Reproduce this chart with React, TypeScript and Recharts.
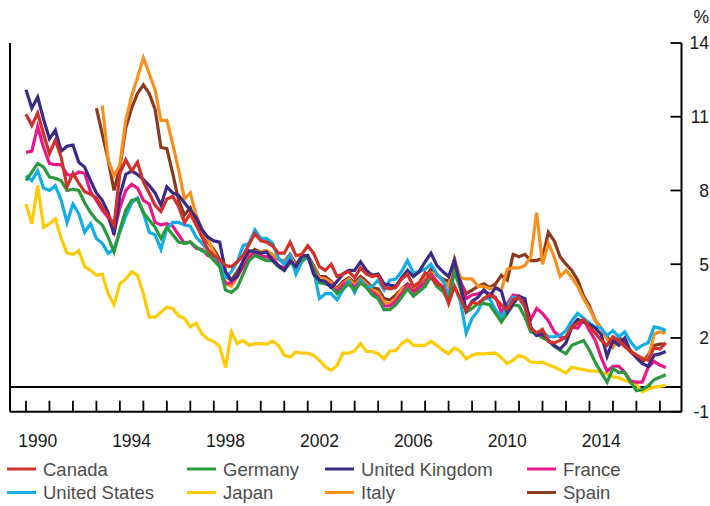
import { Line, LineChart, ReferenceLine, XAxis, YAxis } from 'recharts';

// quarterly observations, 1990 Q1 to 2017 Q2
const firstYear = 1990;
const quarterCount = 110;
const quarters = Array.from({ length: quarterCount }, (_, i) => firstYear + i / 4);

const canada = [
  11.1, 10.65, 11.15, 10.3, 9.5, 10.05, 9.35, 8.15, 8.7, 8.3, 7.95, 7.85,
  7.7, 7.3, 7.0, 6.6, 8.7, 9.25, 8.8, 9.15, 8.35, 7.9, 7.4, 7.15,
  7.65, 7.75, 7.35, 6.7, 7.05, 6.6, 6.1, 5.6, 5.35, 5.2, 4.95, 4.9,
  5.1, 5.35, 5.8, 6.25, 5.95, 5.9, 5.75, 5.45, 5.45, 5.9, 5.35, 5.4,
  5.75, 5.45, 4.9, 4.75, 5.0, 4.5, 4.6, 4.7, 4.45, 4.85, 4.6, 4.5,
  4.55, 4.05, 4.0, 4.05, 4.4, 4.6, 4.1, 4.25, 4.65, 4.45, 4.2, 4.1,
  3.4, 4.1, 3.6, 3.1, 3.45, 3.4, 3.6, 3.75, 3.6, 3.35, 3.15, 3.55,
  3.65, 3.3, 2.4, 2.2, 2.35, 1.85, 1.8, 1.9, 2.05, 2.45, 2.6, 2.75,
  2.45, 2.2, 1.9, 1.7, 2.05, 1.9, 1.65, 1.45, 1.3, 1.15, 1.1, 1.6, 1.55, 1.8,
];

const unitedStates = [
  8.6, 8.4, 8.8, 8.1, 8.0, 8.2, 7.6, 6.7, 7.45, 7.05, 6.3, 6.65,
  6.05, 5.85, 5.45, 5.6, 6.3, 6.95, 7.5, 7.7, 7.1, 6.3, 6.2, 5.6,
  6.45, 6.7, 6.7, 6.6, 6.55, 6.1, 5.85, 5.55, 5.25, 5.2, 4.45, 4.7,
  5.1, 5.75, 5.85, 6.4, 6.05, 6.05, 5.85, 5.25, 5.0, 5.35, 4.6, 5.1,
  5.3, 4.75, 3.6, 3.8, 3.8, 3.55, 3.95, 4.3, 3.85, 4.35, 4.05, 4.1,
  4.35, 3.95, 4.35, 4.4, 4.7, 5.15, 4.65, 4.7, 4.8, 5.0, 4.6, 4.35,
  3.75, 4.1, 3.5, 2.2, 2.8, 3.1, 3.6, 3.6, 3.15, 2.85, 3.3, 3.65,
  3.6, 3.25, 2.3, 2.1, 2.25, 2.05, 2.05, 2.1, 2.3, 2.7, 3.0, 2.8,
  2.6, 2.45, 2.4, 2.1, 2.3, 2.05, 2.25, 1.85, 1.55, 1.7, 1.8, 2.45, 2.4, 2.3,
];

const germany = [
  8.4, 8.75, 9.1, 8.95, 8.55, 8.5, 8.4, 8.0, 8.05, 8.0, 7.5, 7.1,
  6.8, 6.6, 6.1, 5.5, 6.4, 7.2, 7.6, 7.65, 7.1, 6.8, 6.5, 6.05,
  6.5, 6.2, 5.9, 5.85, 5.9, 5.7, 5.55, 5.45, 5.15, 4.9, 3.95, 3.85,
  4.05, 4.6, 5.15, 5.35, 5.25, 5.15, 5.15, 4.9, 4.75, 5.05, 4.95, 5.15,
  5.35, 4.8, 4.25, 4.2, 4.1, 3.8, 4.0, 4.2, 3.95, 4.25, 4.05, 3.75,
  3.6, 3.15, 3.15, 3.35, 3.65, 4.0, 3.7, 3.9, 4.1, 4.5, 4.1, 3.9,
  3.5, 4.7, 4.0, 3.05, 3.2, 3.4, 3.4, 3.35, 3.0, 2.65, 3.0, 3.35,
  3.3, 2.85, 2.25, 2.2, 2.0, 1.9, 1.65, 1.5, 1.35, 1.7, 1.8, 1.9,
  1.5, 1.0, 0.6, 0.2, 0.75, 0.6, 0.6, 0.2, -0.15, -0.1, 0.05, 0.3, 0.4, 0.5,
];

const japan = [
  7.45, 6.65, 8.2, 6.5, 6.65, 6.85, 6.05, 5.45, 5.4, 5.55, 4.9, 4.75,
  4.55, 4.6, 3.8, 3.35, 4.2, 4.4, 4.7, 4.55, 3.8, 2.85, 2.85, 3.05,
  3.25, 3.2, 2.9, 2.8, 2.45, 2.6, 2.15, 1.95, 1.85, 1.65, 0.8, 2.25,
  1.77, 1.9, 1.7, 1.77, 1.77, 1.75, 1.87, 1.7, 1.3, 1.22, 1.43, 1.38,
  1.38, 1.29, 1.09, 0.82, 0.68, 0.88, 1.38, 1.38, 1.47, 1.77, 1.45, 1.45,
  1.36, 1.15, 1.47, 1.49, 1.77, 1.93, 1.7, 1.7, 1.7, 1.87, 1.7, 1.5,
  1.36, 1.6, 1.45, 1.15, 1.3, 1.36, 1.35, 1.37, 1.38, 1.2, 0.95, 1.1,
  1.29, 1.2, 1.02, 1.0, 1.02, 0.9, 0.82, 0.7, 0.57, 0.82, 0.75, 0.71,
  0.66, 0.65, 0.6, 0.54, 0.42, 0.38, 0.27, 0.2, 0.11, -0.2, -0.07, 0.0, 0.03, 0.07,
];

const unitedKingdom = [
  12.1, 11.35, 11.8, 10.9, 10.1, 10.45, 9.6, 9.8, 9.85, 9.15, 8.95, 8.4,
  7.9, 7.6, 7.1, 6.2, 7.8, 8.65, 8.8, 8.65, 8.45, 8.2, 7.9, 7.4,
  8.15, 7.9, 7.8, 7.5, 7.2, 6.9, 6.4, 6.1, 5.95, 5.9, 4.7, 4.35,
  4.5, 5.15, 5.55, 5.5, 5.45, 5.5, 5.15, 4.95, 4.75, 5.15, 4.9, 5.35,
  5.35, 4.6, 4.35, 4.3, 4.05, 4.3, 4.6, 4.75, 4.75, 5.1, 4.75, 4.55,
  4.6, 4.2, 4.15, 4.1, 4.45, 4.75, 4.5, 4.7, 5.1, 5.45, 4.95, 4.7,
  4.5, 5.15, 4.2, 3.1, 3.5, 3.65, 3.95, 3.7, 4.05, 3.9, 3.05, 3.4,
  3.7, 3.6, 2.45, 2.1, 2.15, 1.9, 1.7, 1.55, 1.8, 2.45, 2.75, 2.65,
  2.55, 2.4, 2.15, 1.25, 1.9, 1.7, 2.0, 1.45, 1.2, 0.95, 0.85, 1.3, 1.35, 1.45,
];

const france = [
  9.55, 9.6, 10.6, 9.75, 9.1, 9.05, 9.05, 8.65, 8.6, 8.75, 8.7, 7.95,
  7.6, 7.2, 6.9, 6.3, 7.3, 8.0, 8.25, 8.1, 7.6, 7.45, 6.7, 6.6,
  6.65, 6.55, 6.2, 5.85, 5.9, 5.65, 5.6, 5.35, 5.25, 5.05, 4.2, 4.25,
  4.5, 4.9, 5.3, 5.45, 5.35, 5.3, 5.25, 4.95, 4.85, 5.1, 4.95, 5.2,
  5.3, 4.85, 4.3, 4.25, 4.15, 3.9, 4.15, 4.3, 4.05, 4.35, 4.1, 3.85,
  3.7, 3.3, 3.3, 3.5, 3.8, 4.15, 3.85, 4.05, 4.25, 4.6, 4.3, 4.05,
  3.7, 4.85, 4.3, 3.6, 3.75, 3.8, 3.9, 3.8, 3.65, 3.05, 3.4, 3.75,
  3.7, 3.4, 2.75, 3.2, 3.0, 2.7, 2.25, 2.05, 2.0, 2.45, 2.4, 2.75,
  2.3, 1.9, 1.2, 0.65, 0.85, 0.85, 0.6, 0.25, 0.2, 0.2, 0.8, 1.05, 0.9, 0.8,
];

const italy = [
  null, null, null, null, null, null, null, null, null, null, null, null,
  null, 11.45, 9.25, 8.6, 9.05, 10.85, 11.85, 12.6, 13.4, 12.75, 12.1, 10.85,
  10.85, 9.9, 8.85, 7.65, 7.9, 7.0, 6.4, 6.0, 5.5, 5.0, 4.2, 4.1,
  4.5, 5.0, 5.35, 5.5, 5.5, 5.55, 5.4, 5.2, 5.05, 5.35, 4.9, 5.2,
  5.3, 4.9, 4.45, 4.4, 4.25, 3.95, 4.2, 4.4, 4.15, 4.4, 4.2, 3.95,
  3.85, 3.45, 3.4, 3.6, 4.0, 4.1, 4.05, 4.25, 4.5, 4.65, 4.6, 4.3,
  4.1, 5.2, 4.45, 4.4, 4.4, 4.1, 4.1, 4.0, 4.05, 3.95, 4.8, 4.85,
  4.85, 4.95, 5.3, 7.1, 5.0, 5.85, 5.3, 4.5, 4.75, 4.45, 4.1, 3.6,
  3.2, 2.7, 2.4, 1.95, 1.65, 1.85, 1.65, 1.5, 1.3, 1.2, 1.1, 2.15, 2.25, 2.2,
];

const spain = [
  null, null, null, null, null, null, null, null, null, null, null, null,
  11.35, 10.3, 9.25, 8.0, 8.95, 10.55, 11.35, 11.95, 12.3, 11.95, 11.3, 9.75,
  9.7, 8.7, 7.6, 7.0, 7.3, 6.6, 6.4, 5.9, 5.6, 5.2, 4.5, 4.35,
  4.7, 5.1, 5.45, 5.6, 5.5, 5.55, 5.35, 5.2, 5.1, 5.4, 5.0, 5.3,
  5.35, 4.95, 4.5, 4.5, 4.3, 4.0, 4.3, 4.45, 4.25, 4.5, 4.3, 4.05,
  4.0, 3.6, 3.55, 3.75, 4.0, 4.2, 4.0, 4.2, 4.45, 4.8, 4.55, 4.4,
  4.3, 5.2, 4.3, 3.8, 3.95, 4.1, 4.2, 4.05, 4.2, 4.55, 4.35, 5.4,
  5.3, 5.4, 5.15, 5.15, 5.25, 6.3, 5.95, 5.3, 5.0, 4.75, 4.35, 3.7,
  3.3, 2.7, 2.4, 2.05, 1.65, 2.05, 1.75, 1.45, 1.25, 1.0, 1.3, 1.7, 1.75, 1.75,
];

// drawing order (last on top)
const seriesList = [
  { key: 'spain', name: 'Spain', color: '#8b3a1f', values: spain },
  { key: 'italy', name: 'Italy', color: '#f7901e', values: italy },
  { key: 'japan', name: 'Japan', color: '#ffcb05', values: japan },
  { key: 'france', name: 'France', color: '#e8178a', values: france },
  { key: 'unitedStates', name: 'United States', color: '#15ade6', values: unitedStates },
  { key: 'germany', name: 'Germany', color: '#2b9a3f', values: germany },
  { key: 'unitedKingdom', name: 'United Kingdom', color: '#3b2a86', values: unitedKingdom },
  { key: 'canada', name: 'Canada', color: '#d1312b', values: canada },
];

const legendRows = [
  ['canada', 'germany', 'unitedKingdom', 'france'],
  ['unitedStates', 'japan', 'italy', 'spain'],
];
const legendColumns = [7, 187, 325, 527];

const yTicks = [-1, 2, 5, 8, 11, 14];
const yearTicks = Array.from({ length: 28 }, (_, i) => firstYear + i);
const labelledYears = [1990, 1994, 1998, 2002, 2006, 2010, 2014];

const data = quarters.map((t, i) => {
  const row: Record<string, number | null> = { t };
  seriesList.forEach((s) => {
    row[s.key] = s.values[i];
  });
  return row;
});

const W = 710;
const H = 506;
// axes get 1px of room each (an axis of size 0 is not drawn)
const margin = { top: 43, right: 27.5, bottom: 93.3, left: 9 };
const plotLeft = 10;
const plotRight = 681.5;
const xDomain = [1989.32, 2017.92];
const pxPerYear = (plotRight - plotLeft) / (xDomain[1] - xDomain[0]);
const font = '"Liberation Sans", Arial, Helvetica, sans-serif';

const XTick = ({ x, y, payload }: any) => (
  <g>
    <line x1={x} x2={x} y1={y} y2={y - 11} stroke="#000" strokeWidth={1.8} />
    {labelledYears.includes(payload.value) && (
      <text x={x + pxPerYear / 2} y={y + 35.5} textAnchor="middle" fontSize={17.5} fill="#1a1a1a" fontFamily={font}>
        {payload.value}
      </text>
    )}
  </g>
);

const LeftTick = ({ x, y }: any) => <line x1={x} x2={x + 10.5} y1={y} y2={y} stroke="#000" strokeWidth={1.8} />;

const RightTick = ({ x, y, payload }: any) => (
  <g>
    <line x1={x} x2={x - 11} y1={y} y2={y} stroke="#000" strokeWidth={1.8} />
    <text x={x + 27.5} y={y} dy="0.36em" textAnchor="end" fontSize={17.5} fill="#1a1a1a" fontFamily={font}>
      {payload.value}
    </text>
  </g>
);

const byKey = (key: string) => seriesList.find((s) => s.key === key)!;

export default function App() {
  return (
    <div style={{ position: 'absolute', left: 0, top: 0, width: W, height: H, background: '#fff' }}>
      <LineChart width={W} height={H} data={data} margin={margin}>
        <XAxis
          dataKey="t"
          type="number"
          domain={xDomain}
          ticks={yearTicks}
          allowDataOverflow
          height={1}
          tickSize={0}
          tickMargin={0}
          tickLine={false}
          interval={0}
          tick={<XTick />}
          axisLine={{ stroke: '#000', strokeWidth: 2 }}
        />
        <YAxis
          yAxisId="left"
          orientation="left"
          domain={[-1, 14]}
          ticks={yTicks}
          width={1}
          tickSize={0}
          tickMargin={0}
          tickLine={false}
          interval={0}
          tick={<LeftTick />}
          axisLine={{ stroke: '#000', strokeWidth: 2 }}
        />
        <YAxis
          yAxisId="right"
          orientation="right"
          domain={[-1, 14]}
          ticks={yTicks}
          width={1}
          tickSize={0}
          tickMargin={0}
          tickLine={false}
          interval={0}
          tick={<RightTick />}
          axisLine={{ stroke: '#000', strokeWidth: 2 }}
        />
        <ReferenceLine yAxisId="right" y={0} stroke="#000" strokeWidth={2} />
        {seriesList.map((s) => (
          <Line
            key={s.key}
            yAxisId="right"
            dataKey={s.key}
            name={s.name}
            type="linear"
            stroke={s.color}
            strokeWidth={3.2}
            dot={false}
            activeDot={false}
            isAnimationActive={false}
          />
        ))}
      </LineChart>
      <svg width={W} height={H} style={{ position: 'absolute', left: 0, top: 0, pointerEvents: 'none' }}>
        <text x={709} y={23} textAnchor="end" fontSize={17.5} fill="#1a1a1a" fontFamily={font}>
          %
        </text>
        {legendRows.map((row, r) =>
          row.map((key, c) => {
            const s = byKey(key);
            const cy = 469 + r * 23.5;
            return (
              <g key={key}>
                <line x1={legendColumns[c]} x2={legendColumns[c] + 29} y1={cy} y2={cy} stroke={s.color} strokeWidth={3} />
                <text x={legendColumns[c] + 36} y={cy + 6.5} fontSize={18.5} fill="#4d4d4d" fontFamily={font}>
                  {s.name}
                </text>
              </g>
            );
          }),
        )}
      </svg>
    </div>
  );
}
